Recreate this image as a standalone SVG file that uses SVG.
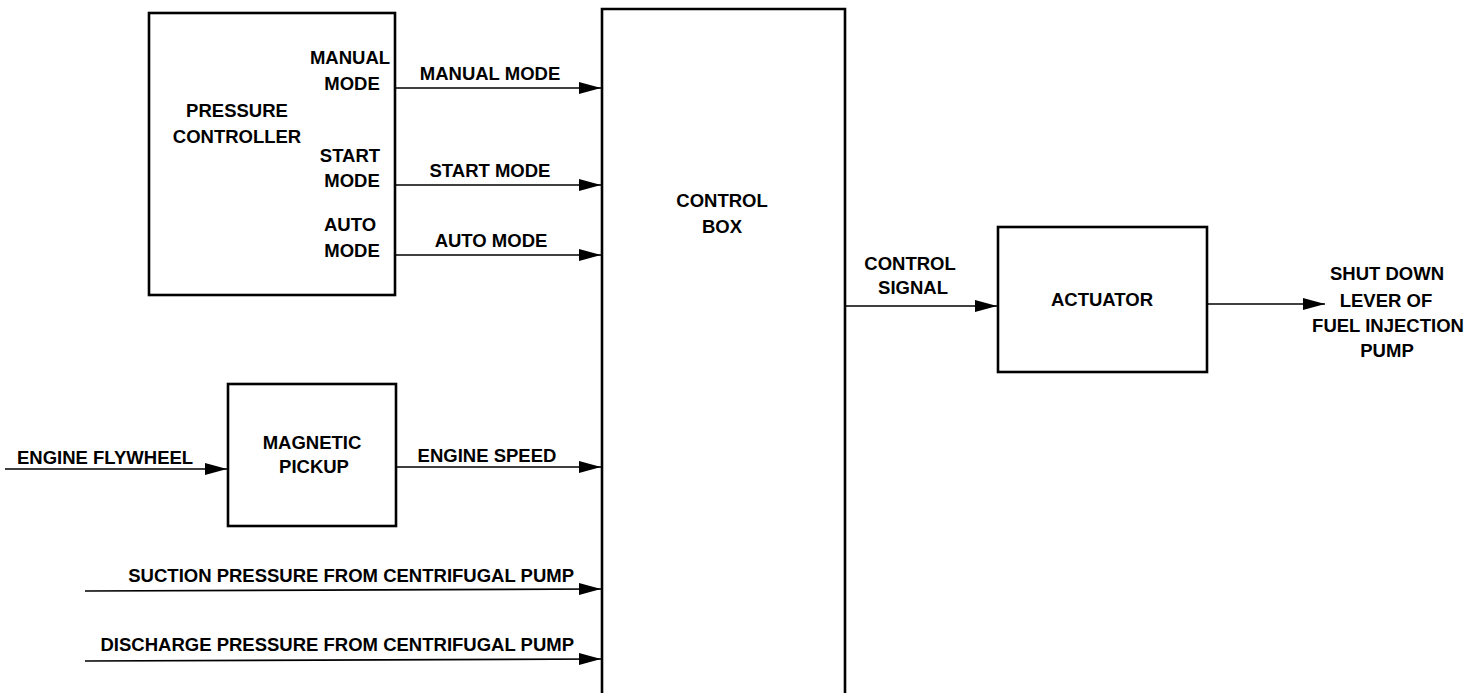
<svg xmlns="http://www.w3.org/2000/svg" width="1479" height="693" viewBox="0 0 1479 693">
<style>
.box{fill:#fff;stroke:#000;stroke-width:2.6}
.ln{fill:none;stroke:#000;stroke-width:1.6}
text{font-family:"Liberation Sans",Arial,Helvetica,sans-serif;font-weight:bold;font-size:18.5px;fill:#000}
.c{text-anchor:middle}
.e{text-anchor:end}
</style>
<defs>
<marker id="ah" markerUnits="userSpaceOnUse" markerWidth="24" markerHeight="14" refX="22" refY="6" orient="auto">
<path d="M0,0 L22,6 L0,12 Z" fill="#000"/>
</marker>
</defs>
<rect width="1479" height="693" fill="#fff"/>

<g id="pressure-controller">
<rect class="box" x="149" y="13" width="246" height="282"/>
<text class="c" x="237" y="117">PRESSURE</text>
<text class="c" x="237" y="143">CONTROLLER</text>
<text class="c" x="350" y="64">MANUAL</text>
<text class="c" x="352" y="90">MODE</text>
<text class="c" x="350" y="162">START</text>
<text class="c" x="352" y="187">MODE</text>
<text class="c" x="350" y="231">AUTO</text>
<text class="c" x="352" y="257">MODE</text>
</g>

<g id="control-box">
<path class="box" d="M602,700 L602,9 L845,9 L845,700"/>
<text class="c" x="722" y="207">CONTROL</text>
<text class="c" x="722" y="233">BOX</text>
</g>

<g id="magnetic-pickup">
<rect class="box" x="228" y="384" width="168" height="142"/>
<text class="c" x="312" y="449">MAGNETIC</text>
<text class="c" x="314" y="473">PICKUP</text>
</g>

<g id="actuator">
<rect class="box" x="998" y="227" width="209" height="145"/>
<text class="c" x="1102" y="306">ACTUATOR</text>
</g>

<g id="connectors">
<line class="ln" x1="396" y1="88" x2="601" y2="88" marker-end="url(#ah)"/>
<line class="ln" x1="396" y1="185" x2="601" y2="185" marker-end="url(#ah)"/>
<line class="ln" x1="396" y1="255" x2="601" y2="255" marker-end="url(#ah)"/>
<line class="ln" x1="5" y1="469" x2="227" y2="469" marker-end="url(#ah)"/>
<line class="ln" x1="397" y1="467" x2="601" y2="467" marker-end="url(#ah)"/>
<line class="ln" x1="85" y1="591" x2="601" y2="589" marker-end="url(#ah)"/>
<line class="ln" x1="85" y1="661" x2="601" y2="659" marker-end="url(#ah)"/>
<line class="ln" x1="846" y1="306" x2="997" y2="306" marker-end="url(#ah)"/>
<line class="ln" x1="1208" y1="304" x2="1325" y2="304" marker-end="url(#ah)"/>

<text class="c" x="490" y="80">MANUAL MODE</text>
<text class="c" x="490" y="177">START MODE</text>
<text class="c" x="491" y="247">AUTO MODE</text>
<text x="17" y="464">ENGINE FLYWHEEL</text>
<text class="c" x="487" y="462">ENGINE SPEED</text>
<text class="e" x="574" y="582">SUCTION PRESSURE FROM CENTRIFUGAL PUMP</text>
<text class="e" x="574" y="651">DISCHARGE PRESSURE FROM CENTRIFUGAL PUMP</text>
<text class="c" x="910" y="270">CONTROL</text>
<text class="c" x="913" y="294">SIGNAL</text>
<text class="c" x="1387" y="280">SHUT DOWN</text>
<text class="c" x="1386" y="307">LEVER OF</text>
<text class="c" x="1388" y="332">FUEL INJECTION</text>
<text class="c" x="1387" y="357">PUMP</text>
</g>
</svg>
